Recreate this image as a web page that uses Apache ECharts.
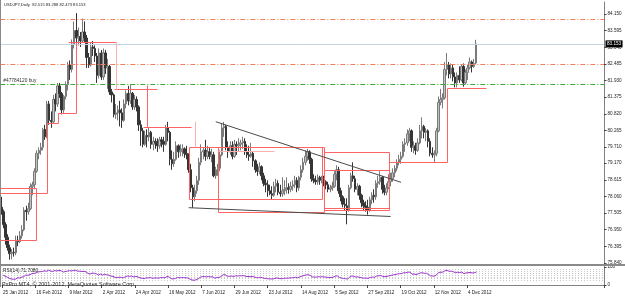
<!DOCTYPE html>
<html><head><meta charset="utf-8">
<script src="https://cdn.jsdelivr.net/npm/echarts@6/dist/echarts.min.js"></script>
<style>html,body{margin:0;padding:0;background:#fff}#c{width:625px;height:297px}</style>
</head><body><div id="c"></div>
<script>
// ---- data ----
const dateTickLabels = ['25 Jan 2012','16 Feb 2012','9 Mar 2012','2 Apr 2012','24 Apr 2012','16 May 2012','7 Jun 2012','29 Jun 2012','23 Jul 2012','14 Aug 2012','5 Sep 2012','27 Sep 2012','19 Oct 2012','12 Nov 2012','4 Dec 2012'];
const open = [77.70,77.55,77.12,76.70,76.35,76.15,76.20,76.18,76.60,76.55,
76.75,76.95,77.60,77.55,77.65,78.40,78.45,78.90,79.50,79.60,
79.70,80.30,80.05,81.15,80.60,80.55,81.30,81.15,81.75,81.50,
80.95,81.40,81.80,82.45,82.30,83.15,83.60,83.35,83.40,83.25,
83.55,83.35,82.70,82.45,83.05,83.00,82.75,82.10,82.85,82.05,
82.85,82.35,82.40,81.55,81.45,80.80,80.85,80.95,80.85,80.60,
81.15,81.50,81.25,81.50,81.05,81.30,81.05,80.45,80.25,79.80,
80.10,80.05,80.20,79.80,79.90,79.85,79.75,79.95,79.90,79.80,
80.35,80.20,79.30,79.15,79.30,79.75,79.55,79.60,79.65,79.50,
79.45,78.95,78.35,78.05,78.25,78.60,79.20,79.55,79.60,79.40,
79.55,79.40,79.45,78.75,78.95,79.00,79.45,80.35,80.40,79.70,
79.55,79.75,79.40,79.80,79.75,79.80,79.85,79.90,79.55,79.45,
79.40,79.50,79.25,78.95,78.90,79.05,78.75,78.50,78.45,78.25,
78.15,78.10,78.40,78.50,78.20,78.15,78.25,78.30,78.35,78.30,
78.40,78.45,78.60,78.35,78.70,78.95,79.20,79.40,79.55,79.30,
78.65,78.60,78.55,78.70,78.60,78.65,78.55,78.45,78.30,78.35,
78.40,78.80,78.95,78.25,78.05,77.80,77.75,77.60,78.35,78.75,
78.65,78.30,78.40,78.10,77.85,77.75,77.70,77.60,77.95,78.10,
78.05,78.50,78.55,78.70,78.30,78.20,78.35,78.55,78.65,78.85,
79.00,79.20,79.30,79.40,79.80,79.85,80.15,80.25,79.70,79.75,
79.60,79.85,80.25,80.40,80.20,80.25,79.90,79.50,79.45,79.50,
80.25,81.20,81.30,81.35,82.30,82.45,82.15,82.35,82.05,81.85,
82.10,81.95,82.40,81.85,82.20,82.35,82.55,82.40,82.515];
const high = [78.05,77.62,77.20,76.80,76.45,76.30,76.35,76.75,76.75,76.90,
77.10,77.70,77.75,77.85,78.50,78.55,79.00,79.60,79.70,79.85,
80.35,80.45,81.25,81.25,80.90,81.45,81.50,81.85,81.85,81.55,
81.45,81.90,82.55,82.60,83.30,83.90,84.18,83.70,83.55,84.00,
83.90,83.45,82.85,83.20,83.25,83.10,82.85,83.00,82.95,83.00,
82.95,82.65,82.45,81.65,81.50,81.15,81.10,81.25,81.00,81.30,
81.60,81.75,81.80,81.55,81.45,81.40,81.10,80.60,80.35,80.25,
80.30,80.35,80.25,80.05,80.00,80.00,80.05,80.05,80.05,80.45,
80.55,80.25,79.60,79.55,79.90,79.80,79.80,79.80,79.70,79.75,
79.50,79.15,78.45,78.45,78.75,79.35,79.80,79.70,79.95,79.75,
79.70,79.65,79.55,79.05,79.15,79.60,80.50,80.55,80.45,79.90,
79.90,79.90,79.95,79.90,80.00,79.95,80.05,80.00,79.80,79.75,
79.85,79.55,79.30,79.15,79.20,79.10,78.85,78.65,78.60,78.45,
78.40,78.55,78.65,78.60,78.45,78.70,78.60,78.70,78.50,78.55,
78.60,78.75,78.70,78.75,79.10,79.35,79.60,79.65,79.60,79.35,
78.80,78.75,78.80,78.75,78.75,78.75,78.60,78.55,78.45,78.55,
78.90,79.10,79.05,78.35,78.10,78.00,78.00,78.45,78.85,79.20,
78.75,78.50,78.45,78.15,77.95,77.90,77.95,78.05,78.20,78.30,
78.60,78.75,78.90,78.75,78.45,78.50,78.80,78.85,79.00,79.10,
79.30,79.45,79.55,79.90,80.00,80.30,80.35,80.30,79.90,79.85,
80.00,80.45,80.70,80.45,80.35,80.30,80.00,79.70,79.60,80.35,
81.40,81.65,81.50,82.55,82.85,82.55,82.50,82.45,82.20,82.20,
82.40,82.45,82.50,82.30,82.45,82.70,82.60,82.65,83.288];
const low = [77.45,77.00,76.45,76.25,75.95,75.96,76.05,76.10,76.40,76.50,
76.65,76.90,77.25,77.45,77.60,78.10,78.30,78.85,79.30,79.45,
79.60,79.95,80.00,80.45,80.35,80.50,80.90,81.05,81.35,80.80,
80.85,81.30,81.60,81.95,82.20,83.00,83.05,83.10,83.05,83.20,
83.20,82.35,82.35,82.40,82.75,82.55,81.85,82.00,81.95,81.95,
82.15,81.65,81.45,81.20,80.70,80.65,80.60,80.40,80.35,80.55,
81.00,81.10,81.15,80.95,80.95,80.90,80.25,79.75,79.70,79.75,
79.70,79.90,79.65,79.60,79.65,79.55,79.65,79.70,79.55,79.75,
79.90,79.10,78.95,79.05,79.25,79.35,79.40,79.40,79.35,79.30,
78.85,78.20,77.68,77.90,78.15,78.45,79.10,79.30,79.25,79.30,
79.30,79.20,78.70,78.65,78.75,78.90,79.40,80.05,79.60,79.35,
79.45,79.30,79.35,79.45,79.55,79.60,79.65,79.45,79.35,79.25,
79.35,79.05,78.85,78.75,78.80,78.60,78.40,78.20,78.05,78.10,
77.95,78.05,78.20,78.10,78.05,78.05,78.10,78.15,78.15,78.20,
78.25,78.35,78.20,78.25,78.60,78.85,79.10,79.25,79.15,78.55,
78.50,78.45,78.45,78.45,78.50,78.40,78.30,78.20,78.20,78.25,
78.35,78.60,78.15,77.90,77.70,77.60,77.13,77.55,78.30,78.55,
78.20,78.10,77.95,77.70,77.60,77.55,77.45,77.55,77.80,77.85,
77.95,78.35,78.45,78.15,78.10,78.10,78.30,78.40,78.55,78.70,
78.90,79.10,79.15,79.35,79.55,79.75,79.90,79.55,79.50,79.45,
79.55,79.80,80.00,80.00,79.90,79.70,79.40,79.35,79.20,79.40,
80.20,81.10,81.00,81.30,82.10,82.00,82.00,81.90,81.70,81.70,
81.85,81.90,81.72,81.80,81.95,82.30,82.20,82.35,82.473];
const close = [77.55,77.12,76.70,76.35,76.15,76.20,76.18,76.60,76.55,76.75,
76.95,77.60,77.55,77.65,78.40,78.45,78.90,79.50,79.60,79.70,
80.30,80.05,81.15,80.60,80.55,81.30,81.15,81.75,81.50,80.95,
81.40,81.80,82.45,82.30,83.15,83.60,83.35,83.40,83.25,83.55,
83.35,82.70,82.45,83.05,83.00,82.75,82.10,82.85,82.05,82.85,
82.35,82.40,81.55,81.45,80.80,80.85,80.95,80.85,80.60,81.15,
81.50,81.25,81.50,81.05,81.30,81.05,80.45,80.25,79.80,80.10,
80.05,80.20,79.80,79.90,79.85,79.75,79.95,79.90,79.80,80.35,
80.20,79.30,79.15,79.30,79.75,79.55,79.60,79.65,79.50,79.45,
78.95,78.35,78.05,78.25,78.60,79.20,79.55,79.60,79.40,79.55,
79.40,79.45,78.75,78.95,79.00,79.45,80.35,80.40,79.70,79.55,
79.75,79.40,79.80,79.75,79.80,79.85,79.90,79.55,79.45,79.40,
79.50,79.25,78.95,78.90,79.05,78.75,78.50,78.45,78.25,78.15,
78.10,78.40,78.50,78.20,78.15,78.25,78.30,78.35,78.30,78.40,
78.45,78.60,78.35,78.70,78.95,79.20,79.40,79.55,79.30,78.65,
78.60,78.55,78.70,78.60,78.65,78.55,78.45,78.30,78.35,78.40,
78.80,78.95,78.25,78.05,77.80,77.75,77.60,78.35,78.75,78.65,
78.30,78.40,78.10,77.85,77.75,77.70,77.60,77.95,78.10,78.05,
78.50,78.55,78.70,78.30,78.20,78.35,78.55,78.65,78.85,79.00,
79.20,79.30,79.40,79.80,79.85,80.15,80.25,79.70,79.75,79.60,
79.85,80.25,80.40,80.20,80.25,79.90,79.50,79.45,79.50,80.25,
81.20,81.30,81.35,82.30,82.45,82.15,82.35,82.05,81.85,82.10,
81.95,82.40,81.85,82.20,82.35,82.55,82.40,82.50,83.153];
const rsi = [55,50,44,37,33,32,32,40,39,43,
47,55,54,57,64,64,68,73,74,75,
79,76,83,77,76,80,78,81,79,72,
75,77,80,78,81,82,77,77,75,76,
73,64,61,66,65,62,55,61,55,60,
56,55,49,48,42,42,43,42,40,46,
50,48,50,45,48,45,40,38,35,40,
39,42,37,39,39,38,41,41,40,47,
45,35,34,36,42,40,41,41,40,39,
33,28,26,29,34,43,47,47,45,47,
45,46,38,41,42,47,57,57,49,48,
50,47,51,50,51,51,52,48,47,46,
48,45,41,41,43,40,37,36,34,34,
33,37,39,36,35,36,38,38,39,40,
41,43,40,45,49,53,56,57,53,45,
44,44,46,45,46,44,43,41,42,43,
49,51,42,39,36,35,33,44,50,48,
44,45,42,39,38,38,37,42,44,43,
50,51,53,47,46,48,51,53,56,58,
61,63,64,68,68,71,72,60,61,58,
62,67,68,65,65,58,51,50,50,59,
70,71,72,80,81,76,77,73,69,71,
69,72,63,67,68,70,67,68,71.708];
const priceTicks = [84.150,83.595,83.040,82.485,81.930,81.375,80.820,80.265,79.710,79.170,78.615,78.060,77.505,76.950,76.395,75.840];
const rsiTicks = [100, 0];
const rsiLevels = [85, 75, 65, 55, 45, 35, 25];
const stopLevels = [83.973, 82.471];
const orderLevel = 81.804;
const bidPrice = 83.153;
// boxes: [startBar, endBar, topPrice, bottomPrice]
const boxes = [[-1,17,78.33,76.61],[90,154,79.70,77.97],[104,155,79.70,77.53],[155,185.5,79.53,77.58],[155,185.5,78.94,77.66]];
// segments: [bar1, price1, bar2, price2]
const redSegs = [[-1,78.19,22,78.19],[22,78.19,22,80.50],[22,80.50,27,80.50],[27,80.50,27,80.84],[27,80.84,36,80.84],[36,80.84,36,83.21],[32,83.21,55,83.21],[54,81.64,75,81.64],[70,81.78,70,80.39],[68,80.39,91,80.39],[185.5,79.20,214,79.20],[214,79.20,214,81.67],[214,81.67,233,81.67]];
const pinkSegs = [[55,83.21,55,81.64],[93,80.58,93,79.72],[104,79.58,131,79.58]];
const trendLines = [[102.5,80.555,192,78.533],[90,77.685,187,77.391]];

// ---- chart ----
const NSLOTS = 290;
const slots = Array.from({length: NSLOTS}, (_, i) => String(i));
const tickOn = (idx) => idx % 16 === 0 && idx / 16 < dateTickLabels.length;
const FONT = 'Liberation Sans, Arial, sans-serif';
const crisp = v => Math.round(v) + 0.5;

const chart = echarts.init(document.getElementById('c'), null, {renderer: 'canvas'});
const candleData = open.map((o, i) => [o, close[i], low[i], high[i]]);

function segSeries(data, color, diag) {
  return {
    type: 'custom', xAxisIndex: 0, yAxisIndex: 0, z: 5, clip: true, silent: true,
    encode: {x: [0, 2], y: [1, 3]},
    data: data,
    renderItem: function (params, api) {
      const a = api.coord([api.value(0), api.value(1)]);
      const b = api.coord([api.value(2), api.value(3)]);
      const s = diag ? {x1: a[0], y1: a[1], x2: b[0], y2: b[1]}
                     : {x1: crisp(a[0]), y1: crisp(a[1]), x2: crisp(b[0]), y2: crisp(b[1])};
      return {type: 'line', shape: s, style: {stroke: color, lineWidth: 1}};
    }
  };
}

const option = {
  animation: false,
  backgroundColor: '#ffffff',
  textStyle: {fontFamily: FONT},
  grid: [
    {left: 0.3, top: 2, width: 603.7, height: 263},
    {left: 0.3, top: 266, width: 603.7, height: 21}
  ],
  xAxis: [
    {type: 'category', gridIndex: 0, data: slots, boundaryGap: true,
     axisLine: {show: false}, axisTick: {show: false}, axisLabel: {show: false}, splitLine: {show: false}},
    {type: 'category', gridIndex: 1, data: slots, boundaryGap: true,
     axisLine: {show: true, lineStyle: {color: '#808080', width: 1}},
     axisTick: {show: true, interval: tickOn, length: 3, lineStyle: {color: '#444'}},
     axisLabel: {show: true, interval: tickOn, formatter: (v, i) => tickOn(i) ? dateTickLabels[i / 16] : '',
       fontSize: 4.6, color: '#222', align: 'left', margin: 3.5, fontFamily: FONT},
     splitLine: {show: false}}
  ],
  yAxis: [
    {type: 'value', gridIndex: 0, position: 'right', min: 75.772, max: 84.551, scale: true,
     axisLine: {show: true, lineStyle: {color: '#808080'}},
     axisTick: {show: true, length: 2.5, customValues: priceTicks, lineStyle: {color: '#444'}},
     axisLabel: {show: true, customValues: priceTicks, formatter: v => v.toFixed(3), fontSize: 4.6, color: '#222', margin: 3.5, fontFamily: FONT},
     splitLine: {show: false}},
    {type: 'value', gridIndex: 1, position: 'right', min: -11.11, max: 105.56,
     axisLine: {show: true, lineStyle: {color: '#808080'}},
     axisTick: {show: true, length: 2.5, customValues: rsiTicks, lineStyle: {color: '#444'}},
     axisLabel: {show: true, customValues: rsiTicks, fontSize: 4.6, color: '#222', margin: 3.5, fontFamily: FONT},
     splitLine: {show: false}}
  ],
  series: [
    {type: 'candlestick', xAxisIndex: 0, yAxisIndex: 0, data: candleData, barWidth: 2, z: 3,
     itemStyle: {color: '#c2c2c2', color0: '#353535', borderColor: '#7a7a7a', borderColor0: '#353535', borderWidth: 1},
     markLine: {
       silent: true, symbol: ['none', 'none'], animation: false, precision: 3,
       label: {show: false},
       data: [
         {yAxis: bidPrice, lineStyle: {color: '#c4d3e2', width: 1, type: 'solid'},
          label: {show: true, position: 'end', formatter: bidPrice.toFixed(3), color: '#fff', backgroundColor: '#000', padding: [1, 1.5, 1, 1.5], fontSize: 4.6, distance: 1.5, fontFamily: FONT}},
         {yAxis: stopLevels[0], lineStyle: {color: '#f2805c', width: 1, type: [5, 2, 1, 2]}},
         {yAxis: stopLevels[1], lineStyle: {color: '#f2805c', width: 1, type: [5, 2, 1, 2]}},
         {yAxis: orderLevel, lineStyle: {color: '#3ba83b', width: 1, type: [5, 2, 1, 2]},
          label: {show: true, position: 'insideStartTop', formatter: '#47784120 buy', color: '#333', fontSize: 4.8, distance: [3, 1], fontFamily: FONT}}
       ]
     }},
    {type: 'custom', xAxisIndex: 0, yAxisIndex: 0, z: 5, clip: true, silent: true,
     encode: {x: [0, 1], y: [2, 3]},
     data: boxes,
     renderItem: function (params, api) {
       const a = api.coord([api.value(0), api.value(2)]);
       const b = api.coord([api.value(1), api.value(3)]);
       return {type: 'rect', shape: {x: crisp(a[0]), y: crisp(a[1]), width: Math.round(b[0] - a[0]), height: Math.round(b[1] - a[1])},
               style: {fill: 'none', stroke: '#ff6464', lineWidth: 1}};
     }},
    segSeries(redSegs, '#ff6464', false),
    segSeries(pinkSegs, '#ffb0b0', false),
    segSeries(trendLines, '#4a4a4a', true),
    {type: 'line', xAxisIndex: 1, yAxisIndex: 1, data: [], z: 1, silent: true,
     markLine: {silent: true, symbol: ['none', 'none'], label: {show: false}, animation: false,
       lineStyle: {color: '#c8c8c8', width: 1, type: [1, 2]},
       data: rsiLevels.map(v => ({yAxis: v}))}},
    {type: 'line', xAxisIndex: 1, yAxisIndex: 1, data: rsi, symbol: 'none', showSymbol: false, z: 6,
     color: '#9932cc',
     lineStyle: {color: '#9932cc', width: 1}}
  ],
  graphic: [
    {type: 'line', shape: {x1: 0, y1: 265, x2: 625, y2: 265}, style: {stroke: '#8a8a8a', lineWidth: 2}, silent: true, z: 10},
    {type: 'line', shape: {x1: 0.5, y1: 0, x2: 0.5, y2: 287}, style: {stroke: '#8a8a8a', lineWidth: 1}, silent: true, z: 10},
    {type: 'text', left: 4, top: 2.8, silent: true, z: 10,
     style: {text: 'USDJPY,Daily  82.515 83.288 82.473 83.153', fontSize: 4.1, fill: '#222', fontFamily: FONT}},
    {type: 'text', left: 3, top: 268, silent: true, z: 10,
     style: {text: 'RSI(14) 71.7080', fontSize: 4.8, fill: '#222', fontFamily: FONT}},
    {type: 'text', left: 2, top: 281, silent: true, z: 10,
     style: {text: 'PxPro MT4, \u00a9 2001-2012, MetaQuotes Software Corp.', fontSize: 5.5, fill: '#222', fontFamily: FONT}}
  ]
};
chart.setOption(option);
</script>
</body></html>
